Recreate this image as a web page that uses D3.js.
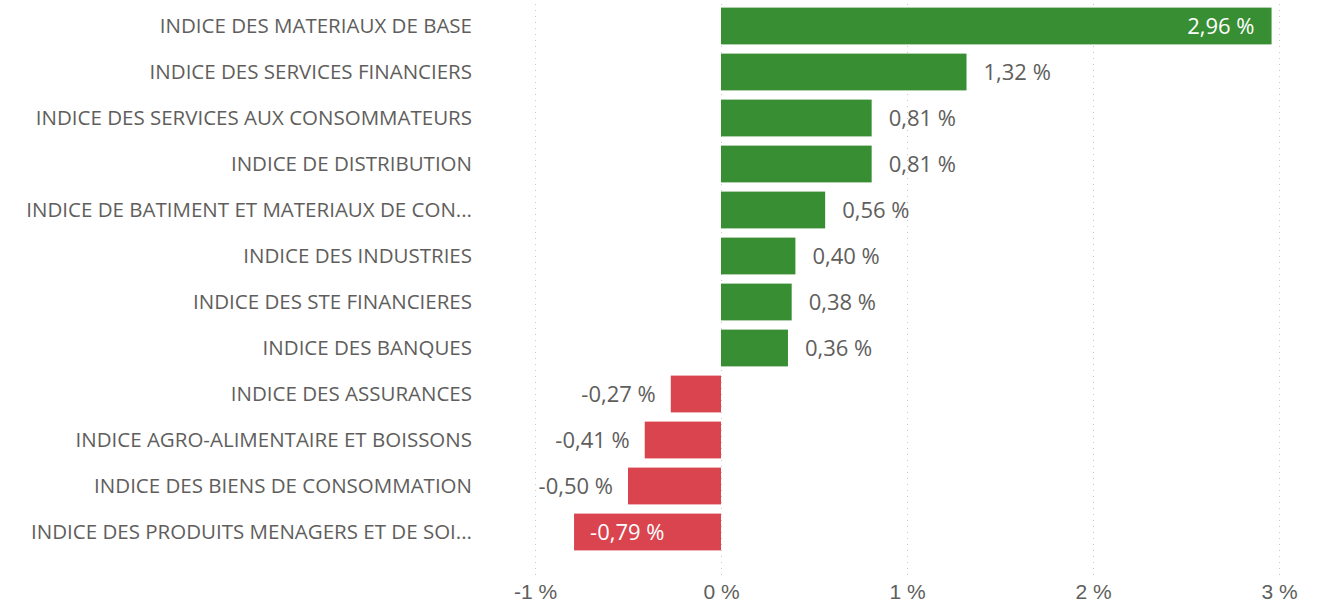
<!DOCTYPE html>
<html>
<head>
<meta charset="utf-8">
<style>
    body { margin: 0; background: #fff; }
    svg { display: block; font-family: 'Open Sans', 'Noto Sans', sans-serif; }
    .cat { font-size: 20.5px; fill: #605e5c; }
    .val { font-size: 22px; }
    .x .tick text { font-size: 21px; fill: #605e5c; }
    .x .tick line { stroke: #c8c8c8; stroke-dasharray: 1 5; }
    .x .domain { display: none; }
</style>
</head>
<body>
<svg width="1333" height="602"></svg>
<script src="https://d3js.org/d3.v7.min.js"></script>
<script>
    const categories = [
        "INDICE DES MATERIAUX DE BASE",
        "INDICE DES SERVICES FINANCIERS",
        "INDICE DES SERVICES AUX CONSOMMATEURS",
        "INDICE DE DISTRIBUTION",
        "INDICE DE BATIMENT ET MATERIAUX DE CON...",
        "INDICE DES INDUSTRIES",
        "INDICE DES STE FINANCIERES",
        "INDICE DES BANQUES",
        "INDICE DES ASSURANCES",
        "INDICE AGRO-ALIMENTAIRE ET BOISSONS",
        "INDICE DES BIENS DE CONSOMMATION",
        "INDICE DES PRODUITS MENAGERS ET DE SOI..."
    ];
    const values = [2.96, 1.32, 0.81, 0.81, 0.56, 0.40, 0.38, 0.36, -0.27, -0.41, -0.50, -0.79];
    const ticks = [-1, 0, 1, 2, 3];

    const svg = d3.select("svg");

    const x = d3.scaleLinear().domain([-1, 3]).range([535, 1279]);
    const y = d3.scaleBand().domain(categories).range([3, 555]).paddingInner(0.2).paddingOuter(0.1);

    const fmt = v => d3.format(".2f")(v).replace(".", ",").replace("\u2212", "-") + " %";

    // grid + axis
    svg.append("g")
        .attr("class", "x axis")
        .attr("transform", "translate(0,575)")
        .call(d3.axisBottom(x).tickValues(ticks).tickSize(-575)
            .tickFormat(d => d + " %"))
        .call(g => g.selectAll(".tick text").attr("y", 24).attr("dy", null));

    const rows = svg.append("g").selectAll("g")
        .data(categories.map((c, i) => ({ cat: c, v: values[i] })))
        .join("g");

    rows.append("text")
        .attr("class", "cat")
        .attr("x", 472)
        .attr("y", d => y(d.cat) + y.bandwidth() / 2)
        .attr("dy", "0.35em")
        .attr("text-anchor", "end")
        .text(d => d.cat);

    rows.append("rect")
        .attr("x", d => x(Math.min(0, d.v)))
        .attr("y", d => y(d.cat))
        .attr("width", d => Math.abs(x(d.v) - x(0)))
        .attr("height", y.bandwidth())
        .attr("fill", d => d.v >= 0 ? "#388e32" : "#d9444f");

    // value labels: inside when the bar is long enough, outside otherwise
    rows.append("text")
        .attr("class", "val")
        .attr("y", d => y(d.cat) + y.bandwidth() / 2)
        .attr("dy", "0.35em")
        .each(function (d) {
            const t = d3.select(this);
            const inside = d.v > 2 || d.v < -0.7;
            if (d.v >= 0) {
                if (inside) t.attr("x", x(d.v) - 17).attr("text-anchor", "end").attr("fill", "#fff");
                else t.attr("x", x(d.v) + 17).attr("text-anchor", "start").attr("fill", "#605e5c");
            } else {
                if (inside) t.attr("x", x(d.v) + 16).attr("text-anchor", "start").attr("fill", "#fff");
                else t.attr("x", x(d.v) - 15).attr("text-anchor", "end").attr("fill", "#605e5c");
            }
            t.text(fmt(d.v));
        });
</script>
</body>
</html>
